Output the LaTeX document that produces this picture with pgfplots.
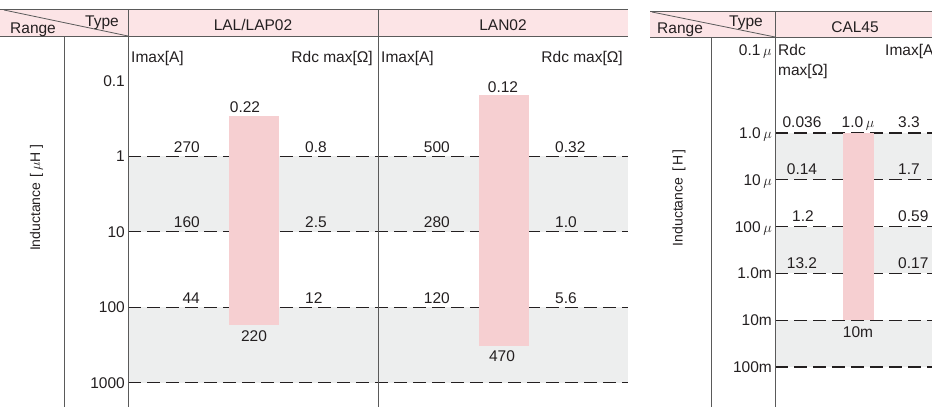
\documentclass[border=0pt]{standalone}
\usepackage{fontspec}
\setmainfont{Liberation Sans}
\usepackage{pgfplots}
\pgfplotsset{compat=1.18}

\definecolor{hdrpink}{HTML}{FCE4E6}
\definecolor{barpink}{HTML}{F6CFD1}
\definecolor{bandgray}{HTML}{EDEEEE}
\definecolor{rule}{HTML}{5A5A5A}
\definecolor{ink}{HTML}{231F20}

\newcommand{\fs}{\fontsize{15.5}{18}\selectfont}

\tikzset{
  num/.style={font=\fs, text=ink, inner sep=0pt},
  greyband/.style={fill=bandgray, draw=none},
  dline/.style={draw=ink, line width=1.1pt, dash pattern=on 13pt off 6pt},
  pinkbar/.style={fill=barpink, draw=none},
}

\begin{document}
\begin{tikzpicture}

% LAL/LAP02 and LAN02
\begin{axis}[ymode=log, y dir=reverse,
  scale only axis, anchor=north west, at={(128pt,-36pt)},
  width=500pt, height=371pt,
  axis line style={draw=none}, xtick=\empty, clip=false,
  major tick length=0pt, minor tick length=0pt, yminorticks=false, ytick pos=left,
  tick label style={font=\fs, text=ink},
  yticklabel style={anchor=east, inner sep=0pt, xshift=-3pt, text height=11pt, text depth=0pt},
  xmin=128, xmax=628, ymin=0.0256, ymax=2099,
  ytick={0.1,1,10,100,1000}, yticklabels={0.1,1,10,100,1000}]
\addplot[greyband] coordinates {(128,1) (628,1) (628,10) (128,10)} --cycle;
\addplot[greyband] coordinates {(128,100) (628,100) (628,1000) (128,1000)} --cycle;
\addplot[dline] coordinates {(128,1) (628,1)};
\addplot[dline] coordinates {(128,10) (628,10)};
\addplot[dline] coordinates {(128,100) (628,100)};
\addplot[dline] coordinates {(128,1000) (628,1000)};
% bars
\addplot[pinkbar] coordinates {(229,0.29) (279,0.29) (279,172) (229,172)} --cycle;
\addplot[pinkbar] coordinates {(479,0.155) (529,0.155) (529,323) (479,323)} --cycle;
% LAL/LAP02 values
\node[num, anchor=base, yshift=3pt] at (axis cs:245,0.29) {0.22};
\node[num, anchor=north, yshift=-5pt, text height=11pt] at (axis cs:254,172) {220};
\node[num, anchor=base east, yshift=4pt] at (axis cs:200,1) {270};
\node[num, anchor=base east, yshift=4pt] at (axis cs:200,10) {160};
\node[num, anchor=base east, yshift=4pt] at (axis cs:200,100) {44};
\node[num, anchor=base west, yshift=4pt] at (axis cs:305,1) {0.8};
\node[num, anchor=base west, yshift=4pt] at (axis cs:305,10) {2.5};
\node[num, anchor=base west, yshift=4pt] at (axis cs:305,100) {12};
% LAN02 values
\node[num, anchor=base, yshift=3pt] at (axis cs:503,0.155) {0.12};
\node[num, anchor=north, yshift=-5pt, text height=11pt] at (axis cs:502,323) {470};
\node[num, anchor=base east, yshift=4pt] at (axis cs:450,1) {500};
\node[num, anchor=base east, yshift=4pt] at (axis cs:450,10) {280};
\node[num, anchor=base east, yshift=4pt] at (axis cs:450,100) {120};
\node[num, anchor=base west, yshift=4pt] at (axis cs:555,1) {0.32};
\node[num, anchor=base west, yshift=4pt] at (axis cs:555,10) {1.0};
\node[num, anchor=base west, yshift=4pt] at (axis cs:555,100) {5.6};
\end{axis}

% CAL45
\begin{axis}[ymode=log, y dir=reverse,
  scale only axis, anchor=north west, at={(775pt,-37pt)},
  width=157pt, height=370pt,
  axis line style={draw=none}, xtick=\empty, clip=false,
  major tick length=0pt, minor tick length=0pt, yminorticks=false, ytick pos=left,
  tick label style={font=\fs, text=ink},
  yticklabel style={anchor=east, inner sep=0pt, xshift=-3pt, text height=11pt, text depth=0pt},
  xmin=775, xmax=932, ymin=8.89e-9, ymax=0.716,
  ytick={1e-6,1e-5,1e-4,1e-3,1e-2,1e-1},
  yticklabels={1.0\,$\mu$,10\,$\mu$,100\,$\mu$,1.0m,10m,100m}]
\addplot[greyband] coordinates {(775,1e-6) (932,1e-6) (932,1e-5) (775,1e-5)} --cycle;
\addplot[greyband] coordinates {(775,1e-4) (932,1e-4) (932,1e-3) (775,1e-3)} --cycle;
\addplot[greyband] coordinates {(775,1e-2) (932,1e-2) (932,1e-1) (775,1e-1)} --cycle;
\addplot[dline] coordinates {(775,1e-6) (932,1e-6)};
\addplot[dline] coordinates {(775,1e-5) (932,1e-5)};
\addplot[dline] coordinates {(775,1e-4) (932,1e-4)};
\addplot[dline] coordinates {(775,1e-3) (932,1e-3)};
\addplot[dline] coordinates {(775,1e-2) (932,1e-2)};
\addplot[dline] coordinates {(775,1e-1) (932,1e-1)};
\addplot[pinkbar] coordinates {(843,1e-6) (874,1e-6) (874,1e-2) (843,1e-2)} --cycle;
\node[num, anchor=base, yshift=5pt] at (axis cs:858,1e-6) {1.0\,$\mu$};
\node[num, anchor=north, yshift=-6pt, text height=11pt] at (axis cs:858,1e-2) {10m};
\node[num, anchor=base, yshift=5pt] at (axis cs:802,1e-6) {0.036};
\node[num, anchor=base, yshift=5pt] at (axis cs:802,1e-5) {0.14};
\node[num, anchor=base, yshift=5pt] at (axis cs:803,1e-4) {1.2};
\node[num, anchor=base, yshift=5pt] at (axis cs:802,1e-3) {13.2};
\node[num, anchor=base west, yshift=5pt] at (axis cs:898,1e-6) {3.3};
\node[num, anchor=base west, yshift=5pt] at (axis cs:898,1e-5) {1.7};
\node[num, anchor=base west, yshift=5pt] at (axis cs:898,1e-4) {0.59};
\node[num, anchor=base west, yshift=5pt] at (axis cs:898,1e-3) {0.17};
\end{axis}

% table frame and headers
\begin{scope}[x=1pt, y=-1pt]
  % left table
  \fill[hdrpink] (0,9) rectangle (628,36);
  \draw[rule, line width=1pt] (0,9) -- (628,9);
  \draw[rule, line width=0.8pt] (0,36) -- (628,36);
  \draw[rule, line width=0.8pt] (4,10) -- (128,36);
  \draw[rule, line width=1pt] (64,36) -- (64,407);
  \draw[rule, line width=1pt] (128,9) -- (128,407);
  \draw[rule, line width=1pt] (378,9) -- (378,407);
  \node[num, anchor=base west] at (10,33.3) {Range};
  \node[num, anchor=base east] at (119,26) {Type};
  \node[num, anchor=base] at (253,30.7) {LAL/LAP02};
  \node[num, anchor=base] at (503,30.7) {LAN02};
  \node[num, anchor=base west] at (131,62) {Imax[A]};
  \node[num, anchor=base east] at (373,62) {Rdc max[Ω]};
  \node[num, anchor=base west] at (381,62) {Imax[A]};
  \node[num, anchor=base east] at (623,62) {Rdc max[Ω]};
  \node[rotate=90, font=\fontsize{14}{16}\selectfont, text=ink, inner sep=0pt]
    at (36.5,198) {Inductance\hspace{5pt}[\hspace{3pt}$\mu$H\hspace{3pt}]};
  % right table
  \fill[hdrpink] (650,11) rectangle (932,37);
  \draw[rule, line width=1pt] (650,11) -- (932,11);
  \draw[rule, line width=0.8pt] (650,37) -- (932,37);
  \draw[rule, line width=0.8pt] (652,12) -- (775,37);
  \draw[rule, line width=1pt] (711,37) -- (711,407);
  \draw[rule, line width=1pt] (775,11) -- (775,407);
  \node[num, anchor=base west] at (657,33.5) {Range};
  \node[num, anchor=base east] at (763,26.7) {Type};
  \node[num, anchor=base] at (855,32.5) {CAL45};
  \node[num, anchor=base west] at (778,55) {Rdc};
  \node[num, anchor=base west] at (778,75) {max[Ω]};
  \node[num, anchor=base west] at (885,55) {Imax[A]};
  \node[num, anchor=base east] at (771.7,55) {0.1\,$\mu$};
  \node[rotate=90, font=\fontsize{14}{16}\selectfont, text=ink, inner sep=0pt]
    at (679,198) {Inductance\hspace{6pt}[\hspace{2pt}H\hspace{2pt}]};
\end{scope}

\pgfresetboundingbox
\path[use as bounding box] (0pt,0pt) rectangle (932pt,-407pt);
\end{tikzpicture}
\end{document}
